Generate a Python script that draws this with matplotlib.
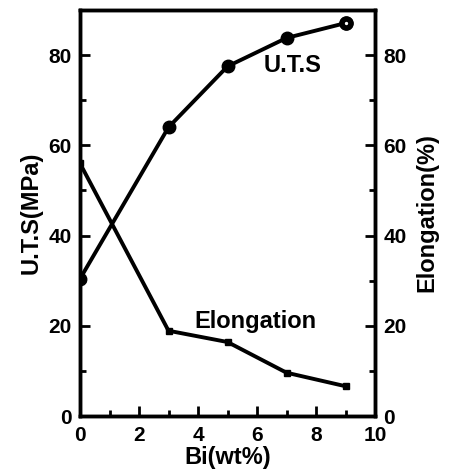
import matplotlib.pyplot as plt
from matplotlib.ticker import MultipleLocator

plt.rcParams['font.family'] = ['Liberation Sans', 'DejaVu Sans']
plt.rcParams['font.weight'] = 'bold'

bi = [0, 3, 5, 7, 9]
uts = [30.4, 64.0, 77.5, 83.8, 87.1]
elong = [56.0, 18.9, 16.4, 9.6, 6.6]

fig = plt.figure(figsize=(4.58, 4.76), dpi=100)
ax = fig.add_axes([80 / 458, 60 / 476, 295 / 458, 406 / 476])
ax2 = ax.twinx()

ax.plot(bi, uts, color='black', lw=2.8, marker='o', ms=9)
# last point looks like a ring with a tiny white centre in the original
ax.plot(bi[-1:], uts[-1:], ls='none', marker='o', ms=6.5, mfc='white', mec='black', mew=4)
ax2.plot(bi, elong, color='black', lw=2.8, marker='s', ms=5)

ax.set_xlim(0, 10)
ax.set_ylim(0, 90)
ax2.set_ylim(0, 90)

for a in (ax, ax2):
    for s in a.spines.values():
        s.set_linewidth(2.5)
    a.tick_params(direction='in', width=2, length=7, labelsize=15, pad=6)
    a.tick_params(which='minor', direction='in', width=2, length=4)
    a.yaxis.set_major_locator(MultipleLocator(20))
    a.yaxis.set_minor_locator(MultipleLocator(10))
ax.xaxis.set_major_locator(MultipleLocator(2))
ax.xaxis.set_minor_locator(MultipleLocator(1))
ax.tick_params(axis='x', pad=7)

ax.set_xlabel('Bi(wt%)', fontsize=17, fontweight='bold', labelpad=1)
ax.set_ylabel('U.T.S(MPa)', fontsize=17, fontweight='bold', labelpad=4)
ax2.set_ylabel('Elongation(%)', fontsize=17, fontweight='bold', labelpad=6)

ax.text(7.2, 77.6, 'U.T.S', fontsize=17, fontweight='bold', ha='center', va='center')
ax.text(5.95, 21, 'Elongation', fontsize=17, fontweight='bold', ha='center', va='center')

fig.savefig('out.png', dpi=100)
